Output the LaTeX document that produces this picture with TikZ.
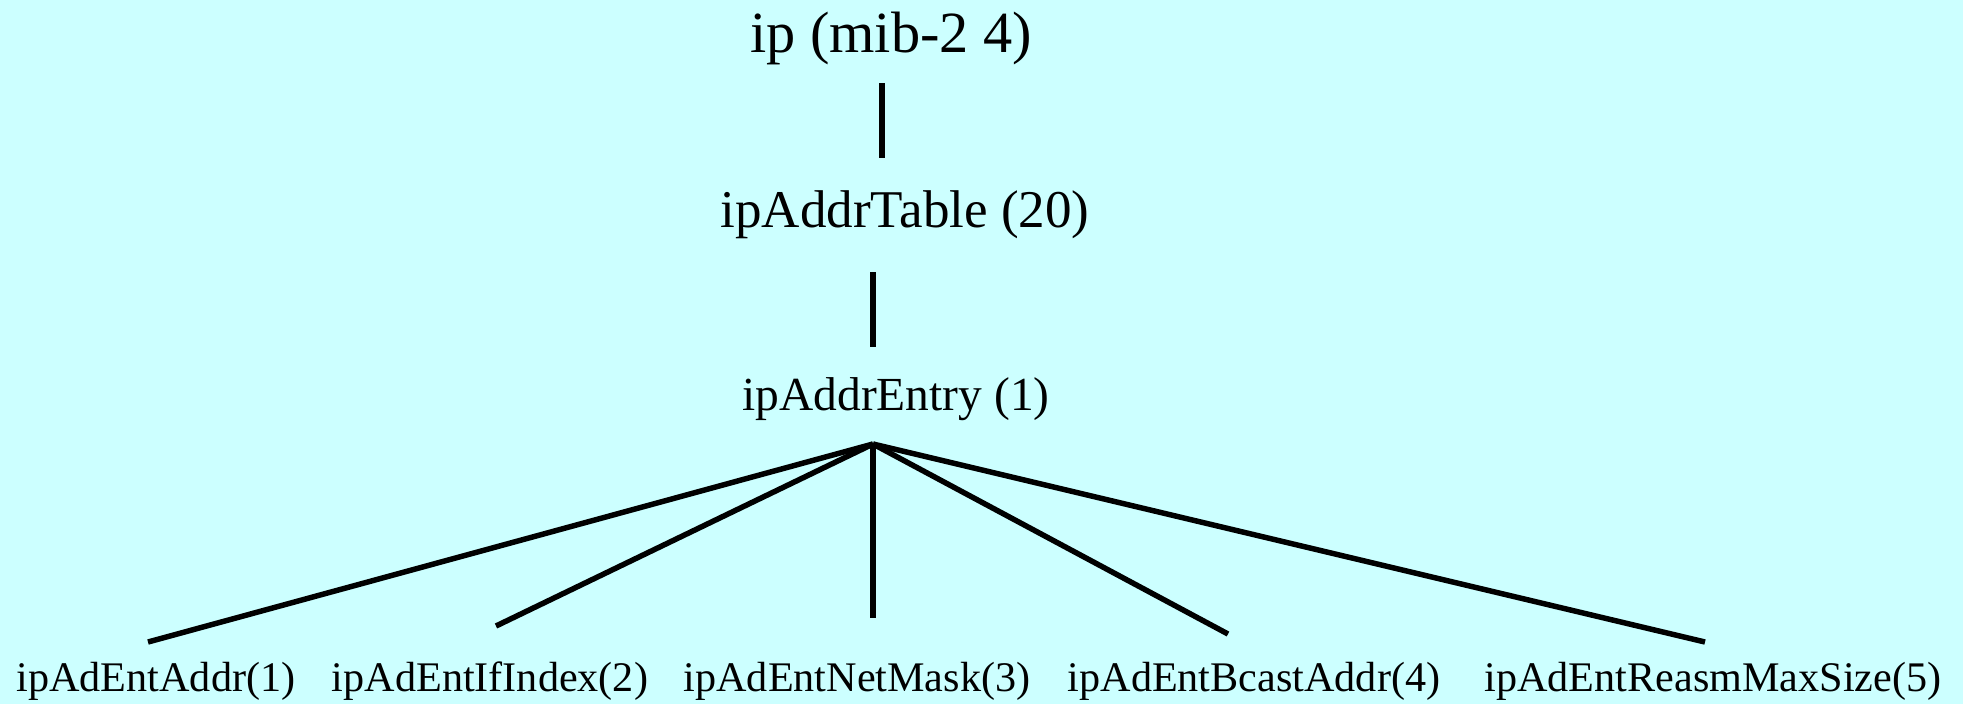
\documentclass[tikz,border=0pt]{standalone}
\usepackage{fontspec}
\setmainfont{Liberation Serif}
\usepackage{tikz}
\definecolor{bgcyan}{RGB}{204,255,255}

\begin{document}
\begin{tikzpicture}
		\tikzset{mibnode/.style = {inner sep = 0pt,anchor = base}, branch/.style = {line width = 1.56pt}}
		\filldraw[fill = bgcyan,bgcyan,line width = 0pt] (0,0) rectangle (19.63,7.03);
		\node[mibnode,font = \fontsize{16.6}{20}\selectfont] (ip) at (8.91,6.51){ip (mib-2 4)};
		\node[mibnode,font = \fontsize{15.1}{18}\selectfont] (addrtable) at (9.05,4.76){ipAddrTable (20)};
		\node[mibnode,font = \fontsize{13.5}{16}\selectfont] (addrentry) at (8.96,2.93){ipAddrEntry (1)};
		\node[mibnode,font = \fontsize{12}{14}\selectfont] (entaddr) at (1.56,0.12){ipAdEntAddr(1)};
		\node[mibnode,font = \fontsize{12}{14}\selectfont] (ifindex) at (4.90,0.12){ipAdEntIfIndex(2)};
		\node[mibnode,font = \fontsize{12}{14}\selectfont] (netmask) at (8.57,0.12){ipAdEntNetMask(3)};
		\node[mibnode,font = \fontsize{12}{14}\selectfont] (bcast) at (12.54,0.12){ipAdEntBcastAddr(4)};
		\node[mibnode,font = \fontsize{12}{14}\selectfont] (reasm) at (17.13,0.12){ipAdEntReasmMaxSize(5)};
		\coordinate (ipfoot) at (8.82,6.20);
		\coordinate (tablehead) at (8.82,5.45);
		\coordinate (tablefoot) at (8.73,4.31);
		\coordinate (entryhead) at (8.73,3.56);
		\coordinate (apex) at (8.73,2.59);
		\coordinate (entaddrtop) at (1.48,0.61);
		\coordinate (ifindextop) at (4.96,0.77);
		\coordinate (netmasktop) at (8.73,0.85);
		\coordinate (bcasttop) at (12.28,0.69);
		\coordinate (reasmtop) at (17.05,0.61);
		\draw[branch] (ipfoot) -- (tablehead);
		\draw[branch] (tablefoot) -- (entryhead);
		\foreach \leaf in {entaddr,ifindex,netmask,bcast,reasm}
			\draw[branch] (apex) -- (\leaf top);
	\end{tikzpicture}
\end{document}
